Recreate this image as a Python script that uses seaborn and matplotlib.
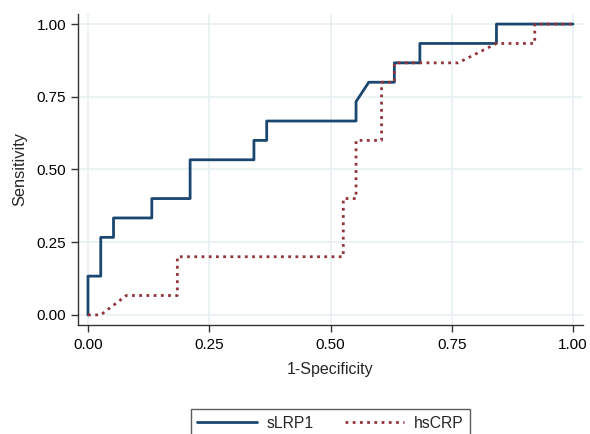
import pandas as pd
import matplotlib.pyplot as plt
import seaborn as sns

# ROC points (1-specificity, sensitivity)
slrp1_fpr = [0, 0, 1/38, 1/38, 2/38, 2/38, 5/38, 5/38, 8/38, 8/38, 13/38, 13/38,
             14/38, 14/38, 21/38, 21/38, 22/38, 24/38, 24/38, 26/38, 26/38,
             32/38, 32/38, 1.0]
slrp1_tpr = [0, 2/15, 2/15, 4/15, 4/15, 5/15, 5/15, 6/15, 6/15, 8/15, 8/15, 9/15,
             9/15, 10/15, 10/15, 11/15, 12/15, 12/15, 13/15, 13/15, 14/15,
             14/15, 1.0, 1.0]

hscrp_fpr = [0, 1/38, 3/38, 7/38, 7/38, 20/38, 20/38, 21/38, 21/38, 23/38, 23/38,
             24/38, 24/38, 29/38, 32/38, 35/38, 35/38, 1.0]
hscrp_tpr = [0, 0, 1/15, 1/15, 3/15, 3/15, 6/15, 6/15, 9/15, 9/15, 12/15,
             12/15, 13/15, 13/15, 14/15, 14/15, 1.0, 1.0]

tick_vals = [0, 0.25, 0.5, 0.75, 1.0]
tick_labels = ["0.00", "0.25", "0.50", "0.75", "1.00"]

sns.set_theme(style="white")
plt.rcParams['font.family'] = ['Liberation Sans', 'DejaVu Sans']

df_a = pd.DataFrame({'fpr': slrp1_fpr, 'tpr': slrp1_tpr})
df_b = pd.DataFrame({'fpr': hscrp_fpr, 'tpr': hscrp_tpr})

fig = plt.figure(figsize=(5.9, 4.34), dpi=100)
ax = fig.add_axes([0.1322, 0.2523, 0.856, 0.7157])

grid_col = '#e8f0f2'
for v in tick_vals:
    ax.axvline(v, color=grid_col, lw=1.2, zorder=0)
    ax.axhline(v, color=grid_col, lw=1.2, zorder=0)

sns.lineplot(data=df_a, x='fpr', y='tpr', sort=False, estimator=None,
             color='#1a476f', lw=2.0, label='sLRP1', ax=ax)
sns.lineplot(data=df_b, x='fpr', y='tpr', sort=False, estimator=None,
             color='#90353b', lw=2.0, linestyle=(0, (1, 1.6)), label='hsCRP', ax=ax)

ax.set_xlim(-0.0206, 1.0206)
ax.set_ylim(-0.033, 1.035)
ax.set_xticks(tick_vals)
ax.set_xticklabels(tick_labels)
ax.set_yticks(tick_vals)
ax.set_yticklabels(tick_labels)
ax.tick_params(axis='both', direction='out', length=5, width=1, color='#333333',
               labelsize=11, labelcolor='black', pad=3.5, bottom=True, left=True)
ax.tick_params(axis='x', pad=5)
for s in ['top', 'right']:
    ax.spines[s].set_visible(False)
for s in ['left', 'bottom']:
    ax.spines[s].set_color('#333333')
    ax.spines[s].set_linewidth(1.0)

ax.set_xlabel('1-Specificity', fontsize=11.5, labelpad=7)
ax.set_ylabel('Sensitivity', fontsize=11.8, labelpad=7)

ax.legend_.remove()
handles, labels = ax.get_legend_handles_labels()
leg = fig.legend(handles, labels, loc='upper center', bbox_to_anchor=(0.560, 0.057),
                 ncol=2, frameon=True, fancybox=False, fontsize=11.3,
                 handlelength=3.8, handletextpad=0.6, columnspacing=2.0,
                 borderpad=0.4, borderaxespad=0)
leg.get_frame().set_edgecolor('#333333')
leg.get_frame().set_linewidth(1.0)

plt.savefig('out.png', dpi=100)
plt.close()
